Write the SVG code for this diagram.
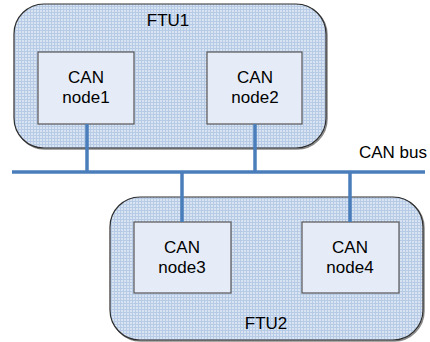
<svg xmlns="http://www.w3.org/2000/svg" width="430" height="342" viewBox="0 0 430 342">
  <style>
    .ftu { fill: url(#grid); stroke: #2e2e2e; stroke-width: 1.2; }
    .shadow { fill: none; stroke: #8a8a8a; stroke-width: 1.5; }
    .node { fill: #e6ecf7; stroke: #555555; stroke-width: 1.2; }
    .bus { stroke: #4a7ebb; stroke-width: 3.5; fill: none; }
    text { font-family: "Liberation Sans", Arial, sans-serif; font-size: 17px; fill: #000000; }
    .mid { text-anchor: middle; }
  </style>
  <defs>
    <!-- fine checked fill used for the FTU enclosures -->
    <pattern id="grid" width="3" height="3" patternUnits="userSpaceOnUse">
      <rect width="3" height="3" fill="#d9e4f3"/>
      <path d="M0 0.5H3M0.5 0V3" stroke="#b7cbe6" stroke-width="1" fill="none"/>
    </pattern>
  </defs>

  <!-- FTU1 enclosure -->
  <g id="ftu1">
    <rect class="shadow" x="15" y="5" width="312" height="144" rx="30" ry="30"/>
    <rect class="ftu" x="14" y="4" width="312" height="144" rx="30" ry="30"/>
    <text x="168" y="26" class="mid">FTU1</text>
  </g>

  <!-- FTU2 enclosure -->
  <g id="ftu2">
    <rect class="shadow" x="111" y="198" width="313" height="143" rx="30" ry="30"/>
    <rect class="ftu" x="110" y="197" width="313" height="143" rx="30" ry="30"/>
    <text x="266" y="329" class="mid">FTU2</text>
  </g>

  <g id="node1">
    <rect class="node" x="38" y="52" width="96" height="72"/>
    <text x="86" y="83" class="mid">CAN</text>
    <text x="86" y="103" class="mid">node1</text>
  </g>

  <g id="node2">
    <rect class="node" x="207" y="52" width="95" height="72"/>
    <text x="255" y="83" class="mid">CAN</text>
    <text x="255" y="103" class="mid">node2</text>
  </g>

  <g id="node3">
    <rect class="node" x="134" y="222" width="97" height="71"/>
    <text x="182" y="253" class="mid">CAN</text>
    <text x="182" y="273" class="mid">node3</text>
  </g>

  <g id="node4">
    <rect class="node" x="302" y="222" width="97" height="71"/>
    <text x="350" y="253" class="mid">CAN</text>
    <text x="350" y="273" class="mid">node4</text>
  </g>

  <!-- CAN bus and node taps -->
  <g id="connectors">
    <line class="bus" x1="12" y1="172" x2="425" y2="172"/>
    <line class="bus" x1="87" y1="124" x2="87" y2="172"/>
    <line class="bus" x1="255" y1="124" x2="255" y2="172"/>
    <line class="bus" x1="182" y1="172" x2="182" y2="222"/>
    <line class="bus" x1="350" y1="172" x2="350" y2="222"/>
  </g>

  <g id="bus-label">
    <text x="359" y="158">CAN bus</text>
  </g>
</svg>
